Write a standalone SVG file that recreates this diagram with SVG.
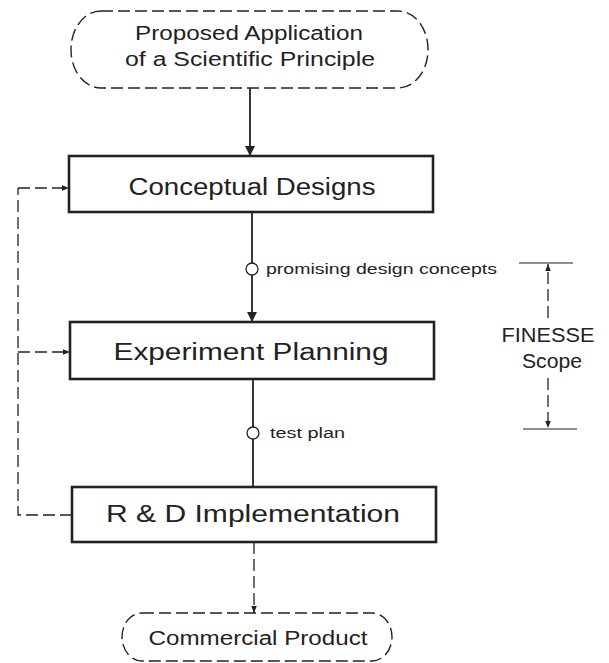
<svg xmlns="http://www.w3.org/2000/svg" width="609" height="663" viewBox="0 0 609 663">
<defs>
<marker id="ah" viewBox="0 0 10 10" refX="10" refY="5" markerWidth="10" markerHeight="10" markerUnits="userSpaceOnUse" orient="auto">
<path d="M0,0 L10,5 L0,10 z" fill="#222"/>
</marker>
<marker id="ahs" viewBox="0 0 10 10" refX="10" refY="5" markerWidth="7" markerHeight="7" markerUnits="userSpaceOnUse" orient="auto">
<path d="M0,1 L10,5 L0,9 z" fill="#222"/>
</marker>
</defs>
<style>
text{font-family:"Liberation Sans",Arial,sans-serif;fill:#222}
.box{fill:#fff;stroke:#222;stroke-width:2.6}
.term{fill:#fff;stroke:#222;stroke-width:1.4;stroke-dasharray:12 5}
.solid{fill:none;stroke:#222;stroke-width:1.8}
.dash{fill:none;stroke:#222;stroke-width:1.3;stroke-dasharray:12 5}
.thin{fill:none;stroke:#222;stroke-width:1.2}
.big{font-size:23px;text-anchor:middle}
.mid{font-size:20px;text-anchor:middle}
.small{font-size:14px}
.knot{fill:#fff;stroke:#222;stroke-width:1.3}
</style>
<rect width="609" height="663" fill="#fff"/>
<g id="connectors">
<line class="solid" x1="250" y1="88" x2="250" y2="156" marker-end="url(#ah)"/>
<line class="solid" x1="252" y1="212" x2="252" y2="322" marker-end="url(#ah)"/>
<line class="solid" x1="253" y1="379" x2="253" y2="487"/>
<polyline class="dash" points="72,515 18,515 18,188"/>
<line class="dash" x1="18" y1="188" x2="69" y2="188" marker-end="url(#ahs)"/>
<line class="dash" x1="18" y1="352" x2="70" y2="352" marker-end="url(#ahs)"/>
<line class="dash" x1="254" y1="542" x2="254" y2="613" marker-end="url(#ahs)"/>
<circle class="knot" cx="252" cy="269" r="6"/>
<circle class="knot" cx="253" cy="433" r="6"/>
<text class="small" x="266" y="274" textLength="231" lengthAdjust="spacingAndGlyphs">promising design concepts</text>
<text class="small" x="270" y="438" textLength="75" lengthAdjust="spacingAndGlyphs">test plan</text>
</g>
<g id="start">
<rect class="term" x="71" y="11" width="357" height="77" rx="30" ry="38"/>
<text class="mid" x="249" y="40" textLength="228" lengthAdjust="spacingAndGlyphs">Proposed Application</text>
<text class="mid" x="250" y="66" textLength="250" lengthAdjust="spacingAndGlyphs">of a Scientific Principle</text>
</g>
<g id="conceptual">
<rect class="box" x="69" y="156" width="364" height="56"/>
<text class="big" x="252" y="195" textLength="247" lengthAdjust="spacingAndGlyphs">Conceptual Designs</text>
</g>
<g id="experiment">
<rect class="box" x="70" y="322" width="364" height="57"/>
<text class="big" x="251" y="360" textLength="275" lengthAdjust="spacingAndGlyphs">Experiment Planning</text>
</g>
<g id="rnd">
<rect class="box" x="72" y="487" width="364" height="55"/>
<text class="big" x="253" y="522" textLength="294" lengthAdjust="spacingAndGlyphs">R &amp; D Implementation</text>
</g>
<g id="product">
<rect class="term" x="122" y="613" width="270" height="48" rx="20" ry="24"/>
<text class="mid" x="258" y="645" font-size="18" textLength="219" lengthAdjust="spacingAndGlyphs">Commercial Product</text>
</g>
<g id="scope">
<line class="thin" x1="519" y1="263" x2="573" y2="263"/>
<line class="thin" x1="523" y1="429" x2="577" y2="429"/>
<line class="dash" x1="548" y1="318" x2="548" y2="264" marker-end="url(#ahs)"/>
<line class="dash" x1="548" y1="378" x2="548" y2="428" marker-end="url(#ahs)"/>
<text class="mid" x="548" y="342" font-size="21" textLength="93" lengthAdjust="spacingAndGlyphs">FINESSE</text>
<text class="mid" x="552" y="368" font-size="21" textLength="60" lengthAdjust="spacingAndGlyphs">Scope</text>
</g>
</svg>
